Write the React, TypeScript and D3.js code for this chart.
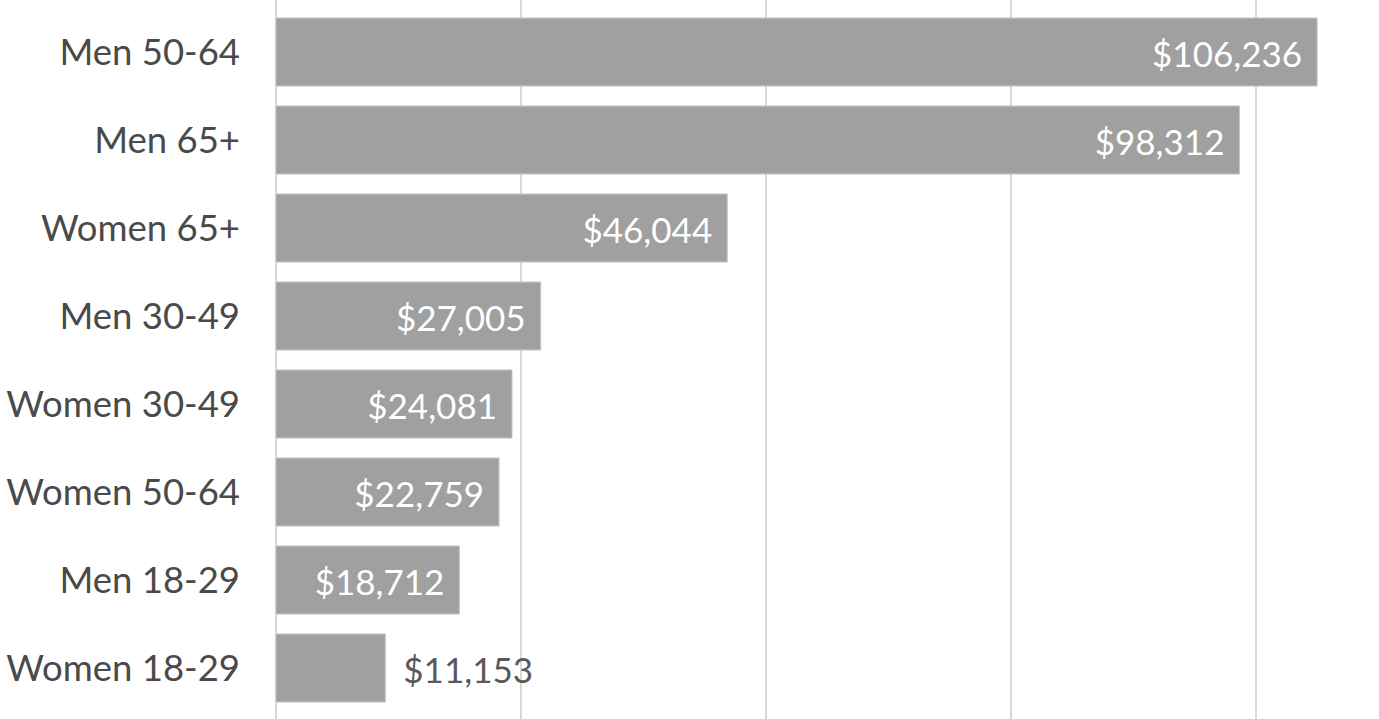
import React from "react";
import * as d3 from "d3";

const categories = ["Men 50-64", "Men 65+", "Women 65+", "Men 30-49", "Women 30-49", "Women 50-64", "Men 18-29", "Women 18-29"];
const values = [106236, 98312, 46044, 27005, 24081, 22759, 18712, 11153];
const gridTicks = [0, 25000, 50000, 75000, 100000];

const W = 1379;
const H = 719;

export default function App() {
  const x = d3.scaleLinear().domain([0, 125000]).range([276, 276 + 245 * 5]);
  const y = d3.scaleBand<string>().domain(categories).range([8, 712]).paddingInner(20 / 88).paddingOuter(10 / 88);
  const fmt = (v: number) => "$" + d3.format(",")(v);
  const font = "Lato, 'Open Sans', sans-serif";
  return (
    <svg width={W} height={H} style={{ position: "absolute", left: 0, top: 0, background: "#fff" }} fontFamily={font}>
      {gridTicks.map((t) => (
        <line key={t} x1={x(t)} x2={x(t)} y1={0} y2={H} stroke="#d9d9d9" strokeWidth={2} />
      ))}
      {categories.map((c, i) => {
        const v = values[i];
        const y0 = y(c)!;
        const bw = x(v) - x(0);
        const inside = bw > 150;
        const cy = y0 + y.bandwidth() / 2;
        return (
          <g key={c}>
            <rect x={x(0)} y={y0} width={bw} height={y.bandwidth()} fill="#a0a0a0" stroke="#c4c4c4" strokeWidth={1} />
            <text x={240} y={cy} dy="0.36em" textAnchor="end" fontSize={36.5} fill="#4a4a4a">{c}</text>
            <text
              x={inside ? x(v) - 15 : x(v) + 18}
              y={cy}
              dy="0.42em"
              textAnchor={inside ? "end" : "start"}
              fontSize={35}
              fill={inside ? "#ffffff" : "#595959"}
            >{fmt(v)}</text>
          </g>
        );
      })}
    </svg>
  );
}
